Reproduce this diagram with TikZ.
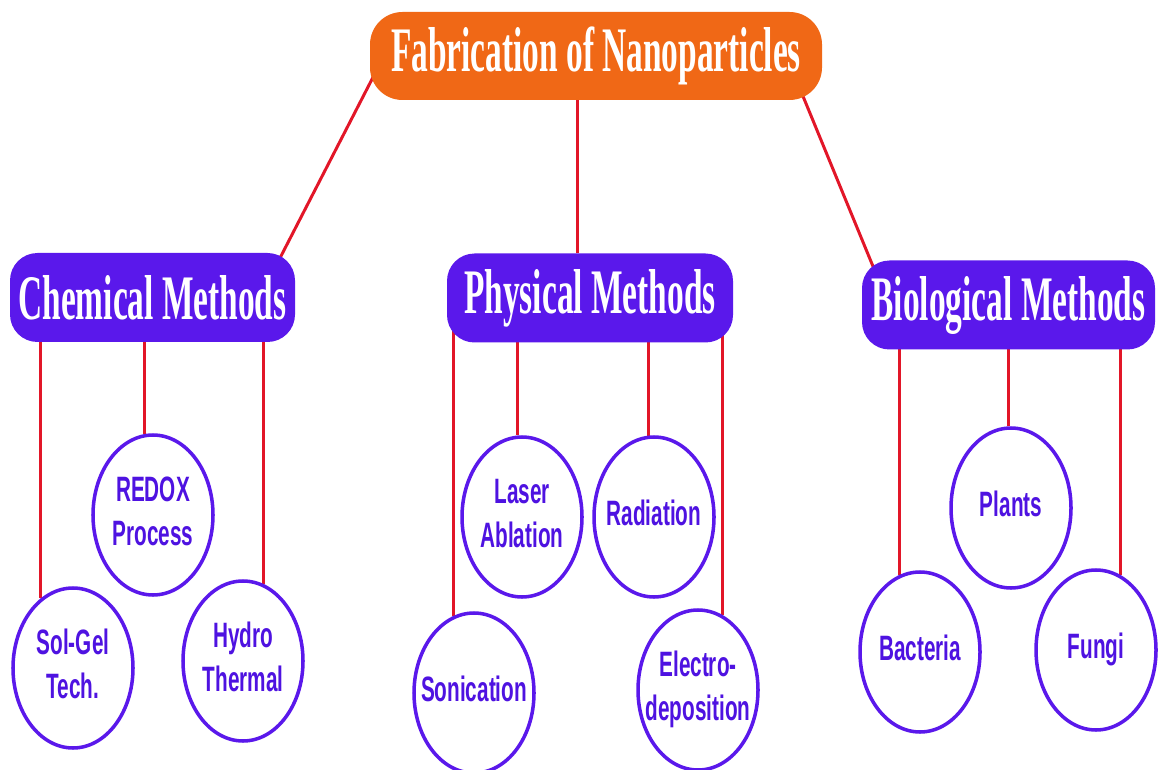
\documentclass[tikz,border=0pt]{standalone}
\usepackage{fontspec}
\setmainfont{Liberation Serif}
\setsansfont{Liberation Sans}
\usepackage{graphicx}
\usetikzlibrary{shapes.geometric,backgrounds}

\definecolor{titleorange}{RGB}{240,104,22}
\definecolor{methodblue}{RGB}{90,24,235}
\definecolor{leaftext}{RGB}{78,18,225}
\definecolor{linkred}{RGB}{226,22,40}

\newcommand{\tallhead}[1]{\scalebox{1}[1.9]{#1}}
\newcommand{\talltxt}[1]{\makebox[0pt]{\scalebox{1}[1.7]{\begin{tabular}{@{}c@{}}#1\end{tabular}}}}

\tikzset{
  headbox/.style={rectangle,rounded corners=0.55cm,fill=methodblue,text=white,
    font=\fontsize{19}{19}\selectfont\rmfamily\bfseries,minimum height=1.78cm,inner sep=0pt},
  topbox/.style={headbox,fill=titleorange,rounded corners=0.65cm,minimum height=1.76cm},
  leaf/.style={ellipse,draw=methodblue,line width=2pt,fill=white,text=leaftext,
    minimum width=2.4cm,minimum height=3.2cm,inner sep=0pt,
    font=\fontsize{11.8}{14.8}\selectfont\sffamily\bfseries},
  link/.style={linkred,line width=1.7pt}
}

\begin{document}
\begin{tikzpicture}
\useasboundingbox (0,0) rectangle (23.16,15.38);
% heads
\node[topbox,minimum width=9.04cm] (fab) at (11.92,14.26) {\tallhead{Fabrication of Nanoparticles}};
\node[headbox,minimum width=5.7cm] (chem) at (3.05,9.43) {\tallhead{Chemical Methods}};
\node[headbox,minimum width=5.72cm] (phys) at (11.8,9.42) {\tallhead{Physical Methods}};
\node[headbox,minimum width=5.86cm] (bio) at (20.17,9.28) {\tallhead{Biological Methods}};
% chemical
\node[leaf] (solgel) at (1.46,2.02) {\talltxt{Sol-Gel\\Tech.}};
\node[leaf] (redox) at (3.06,5.08) {\talltxt{REDOX\\Process}};
\node[leaf] (hydro) at (4.86,2.16) {\talltxt{Hydro\\Thermal}};
% physical
\node[leaf] (sonic) at (9.48,1.52) {\talltxt{Sonication}};
\node[leaf] (laser) at (10.44,5.04) {\talltxt{Laser\\Ablation}};
\node[leaf] (radia) at (13.08,5.04) {\talltxt{Radiation}};
\node[leaf] (electro) at (13.96,1.58) {\talltxt{Electro-\\deposition}};
% biological
\node[leaf] (bact) at (18.4,2.34) {\talltxt{Bacteria}};
\node[leaf] (plants) at (20.22,5.22) {\talltxt{Plants}};
\node[leaf] (fungi) at (21.92,2.38) {\talltxt{Fungi}};
% links
\begin{scope}[on background layer]
\draw[link,shorten <=-0.3cm,shorten >=-0.3cm] (fab.187) -- (chem.19);
\draw[link,shorten >=-0.3cm] (phys.105) -- (phys.105 |- fab.south);
\draw[link,shorten <=-0.3cm,shorten >=-0.3cm] (fab.348) -- (bio.162);
\foreach \leaf/\head in {solgel.115/chem,redox.96/chem,hydro.75/chem,
    sonic.105/phys,laser.93/phys,radia.94/phys,electro.72/phys,
    bact.105/bio,plants.92/bio,fungi.72/bio}
  \draw[link,shorten >=-0.3cm] (\leaf) -- (\leaf |- \head.south);
\end{scope}
\end{tikzpicture}
\end{document}
